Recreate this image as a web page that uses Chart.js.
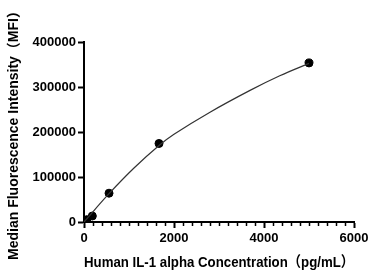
<!DOCTYPE html>
<html lang="en">
<head>
<meta charset="UTF-8">
<title>IL-1 alpha standard curve</title>
<script src="https://cdn.jsdelivr.net/npm/chart.js"></script>
<style>
  html, body { margin: 0; padding: 0; background: #fff; }
  #wrap { width: 373px; height: 279px; }
</style>
</head>
<body>
<div id="wrap"><canvas id="curve" width="373" height="279"></canvas></div>
<script>
// standard points (pg/mL vs MFI)
const concentrations = [0, 7, 21, 62, 185, 556, 1667, 5000];
const mfiValues = [0, 900, 2200, 5200, 13300, 64000, 174500, 353500];

// fitted curve
const fitConc = [0, 556, 1111, 1667, 2000, 2800, 3700, 4350, 5000];
const fitMfi = [0, 63000, 120000, 170000, 195000, 244000, 293000, 325000, 352500];

const xTicks = [0, 2000, 4000, 6000];
const yTicks = [0, 100000, 200000, 300000, 400000];

const font = { family: '"Liberation Sans", Arial, "Noto Sans CJK SC", sans-serif', weight: 'bold' };

const minorTicks = {
    id: 'minorTicks',
    afterDraw(chart) {
        const x = chart.scales.x;
        const ctx = chart.ctx;
        const y0 = chart.chartArea.bottom;
        ctx.save();
        ctx.strokeStyle = '#000';
        ctx.lineWidth = 1.5;
        for (let v = 0; v <= 6000; v += 200) {
            if (v % 2000 === 0) continue;
            const px = Math.round(x.getPixelForValue(v)) + 0.5;
            ctx.beginPath();
            ctx.moveTo(px, y0);
            ctx.lineTo(px, y0 + 4);
            ctx.stroke();
        }
        ctx.restore();
    }
};

new Chart(document.getElementById('curve'), {
    type: 'scatter',
    data: {
        datasets: [{
            label: 'fit',
            type: 'line',
            data: fitConc.map((c, i) => ({ x: c, y: fitMfi[i] })),
            borderColor: '#333',
            borderWidth: 1.2,
            pointRadius: 0,
            tension: 0.4,
            fill: false
        }, {
            label: 'standards',
            data: concentrations.map((c, i) => ({ x: c, y: mfiValues[i] })),
            backgroundColor: '#000',
            borderColor: '#000',
            pointRadius: 4,
            pointHoverRadius: 4
        }]
    },
    options: {
        responsive: false,
        animation: false,
        events: [],
        layout: { padding: { top: 42, right: 19, left: 0, bottom: 0 } },
        plugins: { legend: { display: false }, tooltip: { enabled: false } },
        scales: {
            x: {
                type: 'linear',
                min: 0, max: 6000,
                afterFit: s => { s.height = 57; },
                afterBuildTicks: s => { s.ticks = xTicks.map(v => ({ value: v })); },
                border: { color: '#000', width: 2 },
                grid: { drawOnChartArea: false, tickLength: 6, tickColor: '#000', tickWidth: 2 },
                ticks: { color: '#000', font: { ...font, size: 13 }, padding: 3, maxRotation: 0, callback: v => String(v) },
                title: {
                    display: true,
                    text: 'Human IL-1 alpha Concentration（pg/mL）',
                    color: '#000',
                    font: { ...font, size: 14.5 },
                    padding: { top: 0, bottom: 7 }
                }
            },
            y: {
                min: 0, max: 400000,
                afterFit: s => { s.width = 84; },
                afterBuildTicks: s => { s.ticks = yTicks.map(v => ({ value: v })); },
                border: { color: '#000', width: 2 },
                grid: { drawOnChartArea: false, tickLength: 6, tickColor: '#000', tickWidth: 2 },
                ticks: { color: '#000', font: { ...font, size: 13 }, padding: 2, callback: v => String(v) },
                title: {
                    display: true,
                    text: 'Median Fluorescence Intensity（MFI）',
                    color: '#000',
                    font: { ...font, size: 14 },
                    padding: { top: 6, bottom: 0 }
                }
            }
        }
    },
    plugins: [minorTicks]
});
</script>
</body>
</html>
